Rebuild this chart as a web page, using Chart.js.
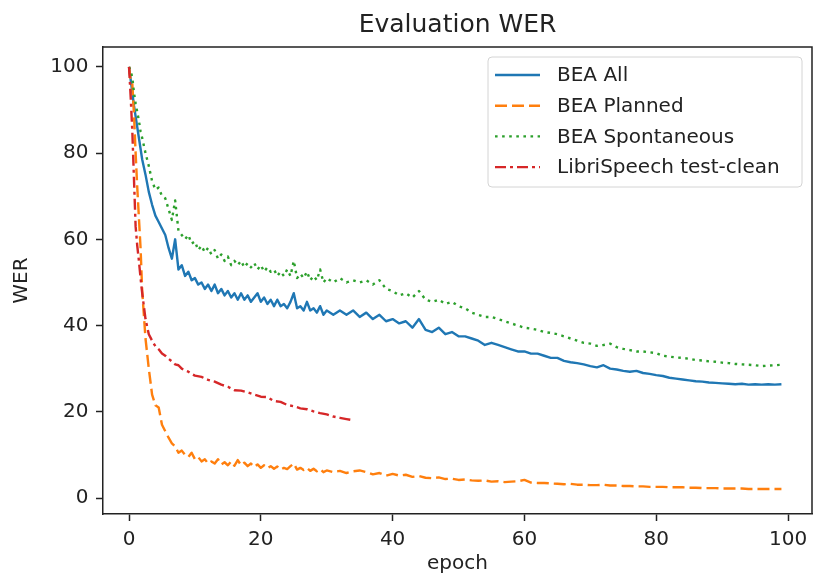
<!DOCTYPE html>
<html>
<head>
<meta charset="utf-8">
<title>Evaluation WER</title>
<script src="https://cdn.jsdelivr.net/npm/chart.js@4.4.0/dist/chart.umd.min.js"></script>
<style>
  html, body { margin: 0; padding: 0; background: #fff; }
  #wrap { width: 815px; height: 575px; }
</style>
</head>
<body>
<div id="wrap"><canvas id="chartWer" width="815" height="575"></canvas></div>
<script>
// epochs shared by the three BEA evaluation sets
const epochs = [
  0, 0.25, 0.5, 0.75, 1, 1.25, 1.5, 1.75, 2,
  2.5, 3, 3.5, 4, 4.5, 5, 5.5, 6, 6.5, 7, 7.5, 8, 8.5, 9, 9.5, 10,
  10.5, 11, 11.5, 12, 12.5, 13, 13.5, 14, 14.5, 15, 15.5, 16, 16.5, 17, 17.5, 18, 18.5, 19, 19.5, 20,
  20.5, 21, 21.5, 22, 22.5, 23, 23.5, 24, 24.5, 25, 25.5, 26, 26.5, 27, 27.5, 28, 28.5, 29, 29.5, 30,
  31, 32, 33, 34, 35, 36, 37, 38, 39, 40,
  41, 42, 43, 44, 45, 46, 47, 48, 49, 50,
  51, 52, 53, 54, 55, 56, 57, 58, 59, 60,
  61, 62, 63, 64, 65, 66, 67, 68, 69, 70,
  71, 72, 73, 74, 75, 76, 77, 78, 79, 80,
  81, 82, 83, 84, 85, 86, 87, 88, 89, 90,
  91, 92, 93, 94, 95, 96, 97, 98, 99
];

const beaAll = [
  100, 97, 94, 91, 88.5, 86, 83.5, 81, 78.5,
  75, 71, 68, 65.5, 64, 62.5, 61, 58, 55.5, 60, 53, 54, 51.5, 52.5, 50.5, 51,
  49.5, 50, 48.5, 49.5, 48, 49.5, 47.5, 48.5, 47, 48, 46.5, 47.5, 46, 47.5, 46, 47, 45.5, 46.5, 47.5, 45.5,
  46.5, 45, 46, 44.5, 46, 44.5, 45, 44, 45.5, 47.5, 44, 44.5, 43.5, 45.5, 43.5, 44, 43, 44.5, 42.5, 43.5,
  42.5, 43.5, 42.5, 43.5, 42, 43, 41.5, 42.5, 41, 41.5,
  40.5, 41, 39.5, 41.5, 39, 38.5, 39.5, 38, 38.5, 37.5,
  37.5, 37, 36.5, 35.5, 36, 35.5, 35, 34.5, 34, 34,
  33.5, 33.5, 33, 32.5, 32.5, 31.8, 31.5, 31.3, 31, 30.6,
  30.3, 30.8, 30, 29.8, 29.5, 29.3, 29.5, 29, 28.8, 28.5,
  28.3, 27.9, 27.7, 27.5, 27.3, 27.1, 27, 26.8, 26.7, 26.6,
  26.5, 26.4, 26.5, 26.3, 26.4, 26.3, 26.4, 26.3, 26.4
];

const beaPlanned = [
  100, 97, 96, 89, 80, 72, 65, 58, 48,
  37, 30, 24, 21.5, 21, 17, 15.5, 14, 12.7, 12, 10.5, 11, 10, 9.5, 10.5, 9,
  9.5, 8.5, 9, 8, 8.5, 8, 9, 7.8, 8.3, 7.6, 8.5, 7.5, 8.8, 7.6, 8.2, 7.4, 8, 7.2, 7.8, 7,
  7.6, 6.9, 7.4, 6.8, 7.3, 6.6, 7, 6.7, 7.4, 8, 6.6, 7, 6.5, 7, 6.3, 6.8, 6.2, 6.7, 6, 6.4,
  6, 6.3, 5.8, 6.2, 6.4, 6, 5.5, 5.8, 5.2, 5.6,
  5.2, 5.4, 4.9, 5.1, 4.7, 4.6, 4.8, 4.4, 4.5, 4.2,
  4.3, 4.1, 4, 4.1, 3.8, 3.9, 3.7, 3.8, 3.9, 4.2,
  3.6, 3.5, 3.5, 3.4, 3.3, 3.2, 3.3, 3.1, 3.1, 3,
  3, 3.1, 2.9, 2.9, 2.8, 2.8, 2.7, 2.7, 2.6, 2.6,
  2.6, 2.5, 2.5, 2.5, 2.4, 2.4, 2.3, 2.3, 2.3, 2.2,
  2.2, 2.2, 2.2, 2.1, 2.1, 2.1, 2.1, 2.1, 2.1
];

const beaSpont = [
  100, 99, 97.5, 94, 91.5, 89.5, 87.5, 85, 83.5,
  80, 77, 73.5, 71.5, 72, 70, 69.5, 67, 64.5, 69, 62, 61, 60, 61, 59, 59.5,
  57.5, 58.5, 57, 58, 56.5, 57.5, 55.5, 56.5, 55, 56, 54, 55, 54, 55, 53.5, 54.5, 53.5, 54.5, 53, 54,
  52.5, 53.5, 52.5, 53, 51.5, 52.5, 51.5, 53, 51.5, 55, 51, 52, 51, 52.5, 50.5, 51.5, 50.5, 53, 50, 51,
  50, 51, 50, 50.5, 50, 50.5, 49.5, 50.5, 48.5, 48,
  47, 47.5, 46.5, 48, 46, 45.5, 46, 45, 45.5, 44.5,
  44, 43, 42.5, 42, 42, 41.5, 41, 40.5, 40, 39.5,
  39.3, 39, 38.5, 38.3, 38, 37.5, 37, 36.5, 36, 35.8,
  35.3, 35.5, 35.8, 35, 34.6, 34.3, 34, 34, 33.8, 33.6,
  33, 32.8, 32.6, 32.5, 32.3, 32, 31.9, 31.7, 31.6, 31.4,
  31.3, 31.1, 31, 30.9, 30.8, 30.6, 30.7, 30.8, 30.9
];

// LibriSpeech was only evaluated for the first ~34 epochs
const libriEpochs = [
  0, 0.25, 0.5, 0.75, 1, 1.25, 1.5, 1.75, 2,
  2.5, 3, 3.5, 4, 4.5, 5, 5.5, 6, 6.5, 7, 7.5, 8, 8.5, 9, 9.5, 10,
  11, 12, 13, 14, 15, 16, 17, 18, 19, 20, 21, 22, 23, 24, 25, 26, 27, 28, 29, 30, 31, 32, 33,
  33.75
];
const libriClean = [
  100, 93, 85, 74, 63, 58.5, 55, 51, 47.5,
  41.5, 38, 36.5, 35.2, 34.5, 33.5, 33, 32.3, 31.7, 31, 30.8, 30, 29.6, 29.3, 28.8, 28.4,
  28.1, 27.4, 27, 26.3, 25.8, 25, 24.9, 24.5, 24, 23.5, 23.4, 22.5, 22.3, 21.6, 21.3, 20.8, 20.6, 20.1, 19.7, 19.4, 18.9, 18.6, 18.3,
  18.1
];

const xTicks = [0, 20, 40, 60, 80, 100];
const yTicks = [0, 20, 40, 60, 80, 100];

const FONT = "'DejaVu Sans', 'Liberation Sans', sans-serif";
const INK = '#222';

const toPoints = (xs, ys) => xs.map((x, i) => ({ x: x, y: ys[i] }));

const series = [
  { label: 'BEA All', xs: epochs, ys: beaAll, color: '#1f77b4', dash: [] },
  { label: 'BEA Planned', xs: epochs, ys: beaPlanned, color: '#ff7f0e', dash: [12, 5] },
  { label: 'BEA Spontaneous', xs: epochs, ys: beaSpont, color: '#2ca02c', dash: [2.6, 4.5] },
  { label: 'LibriSpeech test-clean', xs: libriEpochs, ys: libriClean, color: '#d62728', dash: [11, 4, 3, 4] }
];

// title, axis labels, top/right spines and a matplotlib-like legend
const frameAndLegend = {
  id: 'frameAndLegend',
  afterDraw(chart) {
    const ctx = chart.ctx;
    const a = chart.chartArea;
    ctx.save();

    ctx.strokeStyle = INK;
    ctx.lineWidth = 1.5;
    ctx.setLineDash([]);
    ctx.beginPath();
    ctx.moveTo(a.left, a.top);
    ctx.lineTo(a.right, a.top);
    ctx.lineTo(a.right, a.bottom);
    ctx.stroke();

    ctx.fillStyle = INK;
    ctx.textAlign = 'center';
    ctx.textBaseline = 'alphabetic';
    ctx.font = '25px ' + FONT;
    ctx.fillText('Evaluation WER', (a.left + a.right) / 2, 32);

    ctx.font = '20px ' + FONT;
    ctx.fillText('epoch', (a.left + a.right) / 2, 569);

    ctx.save();
    ctx.translate(22, (a.top + a.bottom) / 2);
    ctx.rotate(-Math.PI / 2);
    ctx.textBaseline = 'middle';
    ctx.fillText('WER', 0, 0);
    ctx.restore();

    // legend box
    const bx = 488, by = 57, bw = 314, bh = 130;
    ctx.beginPath();
    ctx.roundRect(bx, by, bw, bh, 4);
    ctx.fillStyle = 'rgba(255,255,255,0.8)';
    ctx.fill();
    ctx.strokeStyle = '#d4d4d4';
    ctx.lineWidth = 1;
    ctx.stroke();

    ctx.textAlign = 'left';
    ctx.textBaseline = 'middle';
    ctx.font = '20px ' + FONT;
    chart.data.datasets.forEach((ds, i) => {
      const y = 75 + i * 30.7;
      ctx.beginPath();
      ctx.strokeStyle = ds.borderColor;
      ctx.lineWidth = ds.borderWidth;
      ctx.setLineDash(ds.borderDash);
      ctx.moveTo(495, y);
      ctx.lineTo(540, y);
      ctx.stroke();
      ctx.setLineDash([]);
      ctx.fillStyle = INK;
      ctx.fillText(ds.label, 557, y + 1);
    });

    ctx.restore();
  }
};

const axisGrid = {
  display: true,
  drawOnChartArea: false,
  drawTicks: true,
  tickLength: 7,
  tickWidth: 1.5,
  tickColor: INK,
  color: INK
};

new Chart(document.getElementById('chartWer'), {
  type: 'line',
  data: {
    datasets: series.map((s, i) => ({
      label: s.label,
      data: toPoints(s.xs, s.ys),
      borderColor: s.color,
      backgroundColor: s.color,
      borderWidth: 2.4,
      borderDash: s.dash,
      borderJoinStyle: 'round',
      pointRadius: 0,
      tension: 0,
      fill: false,
      order: series.length - 1 - i
    }))
  },
  options: {
    responsive: false,
    animation: false,
    devicePixelRatio: 1,
    layout: { padding: { top: 47, right: 3, left: 0, bottom: 0 } },
    plugins: {
      legend: { display: false },
      title: { display: false },
      tooltip: { enabled: false }
    },
    scales: {
      x: {
        type: 'linear',
        min: -3.95,
        max: 103.64,
        grid: axisGrid,
        border: { display: true, color: INK, width: 1.5 },
        ticks: { color: INK, padding: 7, maxRotation: 0, font: { family: FONT, size: 20 } },
        afterBuildTicks: s => { s.ticks = xTicks.map(v => ({ value: v })); },
        afterFit: s => { s.height = 61; }
      },
      y: {
        type: 'linear',
        min: -3.7,
        max: 104.6,
        grid: axisGrid,
        border: { display: true, color: INK, width: 1.5 },
        ticks: { color: INK, padding: 7.5, font: { family: FONT, size: 20 } },
        afterBuildTicks: s => { s.ticks = yTicks.map(v => ({ value: v })); },
        afterFit: s => { s.width = 103; }
      }
    }
  },
  plugins: [frameAndLegend]
});
</script>
</body>
</html>
